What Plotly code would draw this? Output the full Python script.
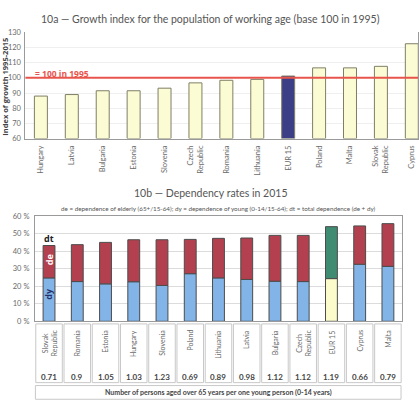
import plotly.graph_objects as go

# ---------------- data ----------------
top_countries = ["Hungary", "Latvia", "Bulgaria", "Estonia", "Slovenia", "Czech<br>Republic",
                 "Romania", "Lithuania", "EUR 15", "Poland", "Malta", "Slovak<br>Republic", "Cyprus"]
top_values = [88, 89, 91.5, 91.5, 93.2, 96.7, 98.4, 99, 101.2, 106.6, 106.6, 107.6, 122.5]

bot_countries = ["Slovak<br>Republic", "Romania", "Estonia", "Hungary", "Slovenia", "Poland",
                 "Lithuania", "Latvia", "Bulgaria", "Czech<br>Republic", "EUR 15", "Cyprus", "Malta"]
dy_values = [24.8, 22.7, 21.4, 22.6, 20.5, 27.2, 24.8, 23.9, 22.9, 22.7, 24.4, 32.6, 31.4]
dt_values = [43.3, 43.8, 45.1, 46.6, 46.6, 46.8, 47.4, 47.6, 49.1, 49.1, 54.1, 54.5, 55.8]
ratio_labels = ["0.71", "0.9", "1.05", "1.03", "1.23", "0.69", "0.89", "0.98", "1.12", "1.12",
                "1.19", "0.66", "0.79"]
top_ticks = [60, 70, 80, 90, 100, 110, 120, 130]
bot_ticks = [0, 10, 20, 30, 40, 50, 60]
bot_tick_labels = ["0 %", "10 %", "20 %", "30 %", "40 %", "50 %", "60 %"]

de_values = [round(t - y, 1) for t, y in zip(dt_values, dy_values)]

W, H = 419, 416
FONT = "Lato"
BOLDFONT = "Open Sans"
GRAY = "#6a6a6a"

def px_x(p):
    return p / W

def px_y(p):
    return 1 - p / H

fig = go.Figure()

# ---- top chart ----
top_x = list(range(len(top_countries)))
top_colors = ["#3c3f85" if c == "EUR 15" else "#fbfbd4" for c in top_countries]
fig.add_trace(go.Bar(
    x=top_x, y=[v - 60 for v in top_values], base=60, width=0.42,
    marker=dict(color=top_colors, line=dict(color="#7f7f66", width=1)),
    xaxis="x", yaxis="y", showlegend=False, hoverinfo="skip"))

# ---- bottom chart ----
bot_x = list(range(len(bot_countries)))
dy_colors = ["#fbfbcc" if c == "EUR 15" else "#82b4e8" for c in bot_countries]
de_colors = ["#3f8c73" if c == "EUR 15" else "#b3404f" for c in bot_countries]
fig.add_trace(go.Bar(
    x=bot_x, y=dy_values, width=0.42,
    marker=dict(color=dy_colors, line=dict(color="#4c4c4c", width=1)),
    xaxis="x2", yaxis="y2", showlegend=False, hoverinfo="skip"))
fig.add_trace(go.Bar(
    x=bot_x, y=de_values, base=dy_values, width=0.42,
    marker=dict(color=de_colors, line=dict(color="#4c4c4c", width=1)),
    xaxis="x2", yaxis="y2", showlegend=False, hoverinfo="skip"))

fig.update_layout(
    width=W, height=H, margin=dict(l=0, r=0, t=0, b=0),
    paper_bgcolor="white", plot_bgcolor="white",
    font=dict(family=FONT, color=GRAY, size=8),
    barmode="overlay",
    xaxis=dict(domain=[px_x(25.5), 1.0], range=[-0.5, 12.2],
               tickmode="array", tickvals=top_x, ticktext=top_countries,
               tickangle=-90, tickfont=dict(size=7.5, color=GRAY),
               showgrid=False, showline=True, linecolor="#9a9a9a", linewidth=1,
               ticks="", ticklabelstandoff=3, anchor="y", fixedrange=True),
    yaxis=dict(domain=[px_y(137.5), px_y(29)], range=[60, 130],
               tickmode="array", tickvals=top_ticks,
               tickfont=dict(size=7.5, color=GRAY),
               showgrid=True, gridcolor="#efefef", gridwidth=1,
               showline=True, linecolor="#9a9a9a", linewidth=1, mirror=True,
               ticks="", ticklabelstandoff=2, anchor="x", fixedrange=True, zeroline=False),
    xaxis2=dict(domain=[px_x(35), px_x(403)], range=[-0.5, 12.5],
                tickmode="array", tickvals=bot_x, ticktext=[""] * len(bot_x),
                showgrid=False, showline=True, linecolor="#9a9a9a", linewidth=1, mirror=True,
                ticks="", anchor="y2", fixedrange=True),
    yaxis2=dict(domain=[px_y(324.3), px_y(217)], range=[0, 60],
                tickmode="array", tickvals=bot_ticks, ticktext=bot_tick_labels,
                tickfont=dict(size=7.5, color=GRAY),
                showgrid=True, gridcolor="#dcdcdc", gridwidth=1,
                showline=True, linecolor="#9a9a9a", linewidth=1, mirror=True,
                ticks="", ticklabelstandoff=3, anchor="x2", fixedrange=True, zeroline=False),
)

# red reference line
fig.add_shape(type="line", xref="paper", yref="y", x0=px_x(25.5), x1=1.0, y0=100, y1=100,
              line=dict(color="#e8544c", width=2), layer="above")

shapes = []
# table boxes under bottom chart
for i in bot_x:
    shapes.append(dict(type="rect", xref="x2", yref="paper",
                       x0=i - 0.47, x1=i + 0.47, y0=px_y(387), y1=px_y(327),
                       line=dict(color="#c8c8c8", width=1), fillcolor="rgba(0,0,0,0)"))
shapes.append(dict(type="rect", xref="paper", yref="paper",
                   x0=px_x(35.5), x1=px_x(402), y0=px_y(404), y1=px_y(390),
                   line=dict(color="#c8c8c8", width=1), fillcolor="rgba(0,0,0,0)"))
for s in shapes:
    fig.add_shape(**s)

ann = []
ann.append(dict(text="10a — Growth index for the population of working age (base 100 in 1995)",
                xref="paper", yref="paper", x=px_x(211), y=px_y(15), showarrow=False,
                font=dict(size=10.5, color="#555555"), xanchor="center", yanchor="middle"))
ann.append(dict(text="<b>Index of growth 1995-2015</b>", xref="paper", yref="paper",
                x=px_x(5.5), y=px_y(84), textangle=-90, showarrow=False,
                font=dict(size=7.5, color="#444444", family=BOLDFONT), xanchor="center", yanchor="middle"))
ann.append(dict(text="<b>= 100 in 1995</b>", xref="paper", yref="paper",
                x=px_x(33), y=px_y(71), showarrow=False,
                font=dict(size=8.5, color="#e8544c", family=BOLDFONT), xanchor="left", yanchor="middle"))
ann.append(dict(text="10b — Dependency rates in 2015", xref="paper", yref="paper",
                x=px_x(211), y=px_y(193), showarrow=False,
                font=dict(size=10.5, color="#555555"), xanchor="center", yanchor="middle"))
ann.append(dict(text="de = dependence of elderly (65+/15-64); dy = dependence of young (0-14/15-64); dt = total dependence (de + dy)",
                xref="paper", yref="paper", x=px_x(219), y=px_y(209), showarrow=False,
                font=dict(size=6.3, color="#555555"), xanchor="center", yanchor="middle"))
# bar labels on first bar
ann.append(dict(text="<b>dt</b>", xref="x2", yref="y2", x=0, y=47.2, showarrow=False,
                font=dict(size=9, color="#222222", family=BOLDFONT), xanchor="center", yanchor="middle"))
ann.append(dict(text="<b>de</b>", xref="x2", yref="y2", x=0, y=34.9, showarrow=False, textangle=-90,
                font=dict(size=9, color="white", family=BOLDFONT), xanchor="center", yanchor="middle"))
ann.append(dict(text="<b>dy</b>", xref="x2", yref="y2", x=0, y=15.8, showarrow=False, textangle=-90,
                font=dict(size=9, color="#27306a", family=BOLDFONT), xanchor="center", yanchor="middle"))
# table content
for i, (c, r) in enumerate(zip(bot_countries, ratio_labels)):
    ann.append(dict(text=c, xref="x2", yref="paper", x=i, y=px_y(331), textangle=-90,
                    showarrow=False, font=dict(size=7, color=GRAY),
                    xanchor="center", yanchor="top"))
    ann.append(dict(text="<b>" + r + "</b>", xref="x2", yref="paper", x=i, y=px_y(381.5),
                    showarrow=False, font=dict(size=8, color="#444444"),
                    xanchor="center", yanchor="middle"))
ann.append(dict(text="<b>Number of persons aged over 65 years per one young person (0-14 years)</b>",
                xref="paper", yref="paper", x=px_x(219), y=px_y(397), showarrow=False,
                font=dict(size=7, color="#444444"), xanchor="center", yanchor="middle"))
fig.update_layout(annotations=ann)

fig.write_html("out.html")
